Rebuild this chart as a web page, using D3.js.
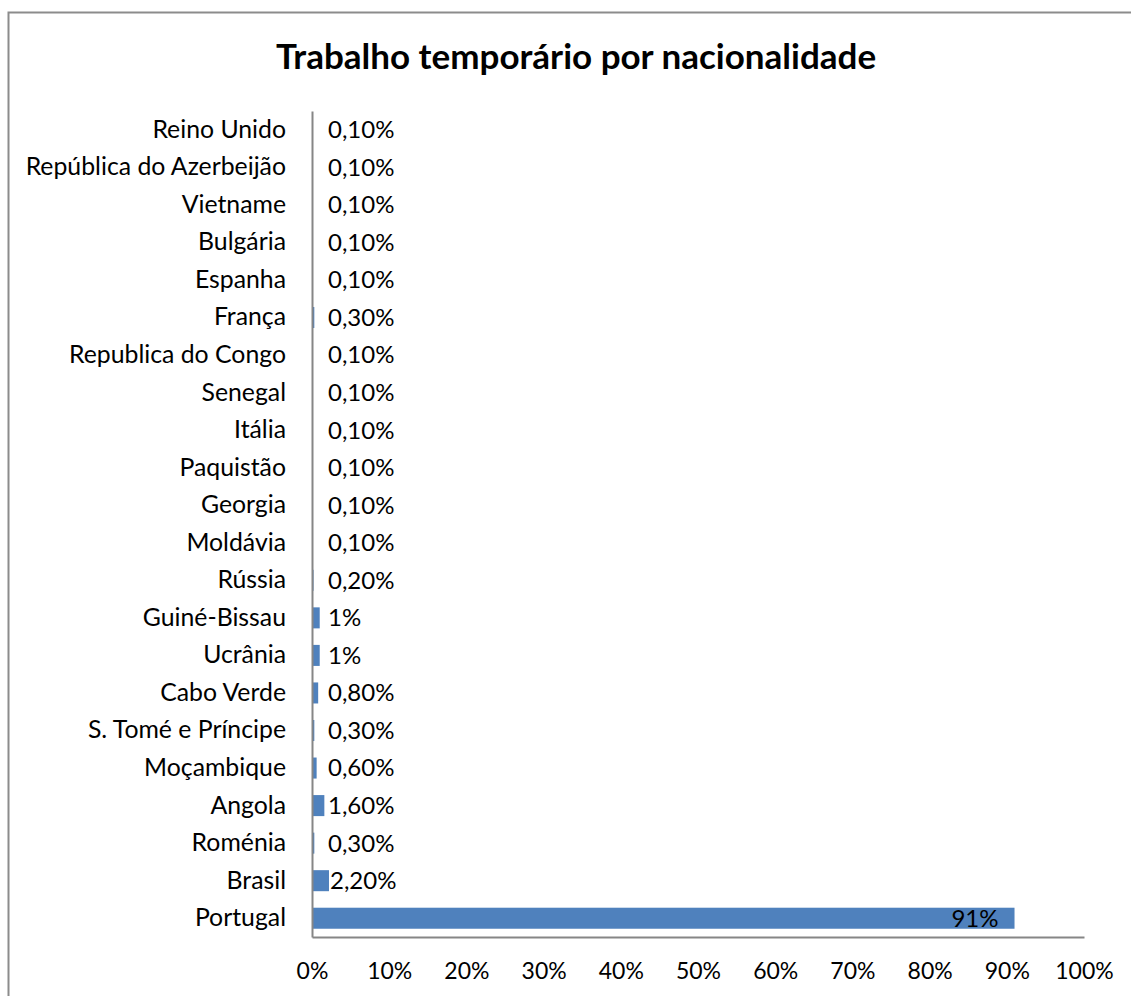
<!DOCTYPE html>
<html lang="pt">
<head>
  <meta charset="UTF-8" />
  <title>Trabalho temporário por nacionalidade</title>
  <script src="https://cdn.jsdelivr.net/npm/d3@7"></script>
  <style>
    body { margin: 0; background: #fff; }
    svg { display: block; font-family: Lato, "Open Sans", sans-serif; }
    .cat text, .tick text { fill: #000; }
  </style>
</head>
<body>
<svg width="1131" height="996"></svg>
<script>
  // data, top to bottom as in the chart
  const countries = ["Reino Unido", "República do Azerbeijão", "Vietname", "Bulgária", "Espanha",
    "França", "Republica do Congo", "Senegal", "Itália", "Paquistão", "Georgia", "Moldávia",
    "Rússia", "Guiné-Bissau", "Ucrânia", "Cabo Verde", "S. Tomé e Príncipe", "Moçambique",
    "Angola", "Roménia", "Brasil", "Portugal"];
  const values = [0.1, 0.1, 0.1, 0.1, 0.1, 0.3, 0.1, 0.1, 0.1, 0.1, 0.1, 0.1,
    0.2, 1, 1, 0.8, 0.3, 0.6, 1.6, 0.3, 2.2, 91];
  const valueLabels = ["0,10%", "0,10%", "0,10%", "0,10%", "0,10%", "0,30%", "0,10%", "0,10%",
    "0,10%", "0,10%", "0,10%", "0,10%", "0,20%", "1%", "1%", "0,80%", "0,30%", "0,60%",
    "1,60%", "0,30%", "2,20%", "91%"];
  const ticks = [0, 10, 20, 30, 40, 50, 60, 70, 80, 90, 100];

  const data = countries.map((c, i) => ({ name: c, value: values[i], label: valueLabels[i] }));

  const svg = d3.select("svg");

  // outer chart frame
  svg.append("rect")
    .attr("x", 8.5).attr("y", 12.5)
    .attr("width", 1140).attr("height", 1000)
    .attr("fill", "none").attr("stroke", "#8c8c8c").attr("stroke-width", 2);

  svg.append("text")
    .attr("x", 576).attr("y", 69)
    .attr("text-anchor", "middle")
    .attr("font-size", 35).attr("font-weight", "bold")
    .text("Trabalho temporário por nacionalidade");

  const x = d3.scaleLinear().domain([0, 100]).range([312, 1084]);
  const y = d3.scaleBand().domain(countries).range([111, 937]).paddingInner(0.44).paddingOuter(0.22);

  // bars
  svg.append("g").selectAll("rect")
    .data(data)
    .join("rect")
    .attr("x", x(0))
    .attr("y", d => y(d.name))
    .attr("width", d => x(d.value) - x(0))
    .attr("height", y.bandwidth())
    .attr("fill", "#4f81bd");

  // value labels
  svg.append("g").selectAll("text")
    .data(data)
    .join("text")
    .attr("x", d => d.value > 50 ? x(d.value) - 16 : Math.max(x(d.value) + 1, x(0) + 16))
    .attr("y", d => y(d.name) + y.bandwidth() / 2)
    .attr("dy", "0.35em")
    .attr("text-anchor", d => d.value > 50 ? "end" : "start")
    .attr("font-size", 24)
    .text(d => d.label);

  // category axis
  const yAxis = svg.append("g")
    .attr("transform", `translate(${x(0)},0)`)
    .call(d3.axisLeft(y).tickSize(0).tickPadding(26));
  yAxis.select(".domain").attr("stroke", "#868686").attr("stroke-width", 2);
  yAxis.selectAll("text").attr("font-size", 24.8).attr("font-family", "Lato, sans-serif");

  // value axis
  const xAxis = svg.append("g")
    .attr("transform", "translate(0,937)")
    .call(d3.axisBottom(x).tickValues(ticks).tickSize(0).tickPadding(26).tickFormat(d => d + "%"));
  xAxis.select(".domain").attr("stroke", "#868686").attr("stroke-width", 2);
  xAxis.selectAll("text").attr("font-size", 23).attr("font-family", "Lato, sans-serif");
</script>
</body>
</html>
